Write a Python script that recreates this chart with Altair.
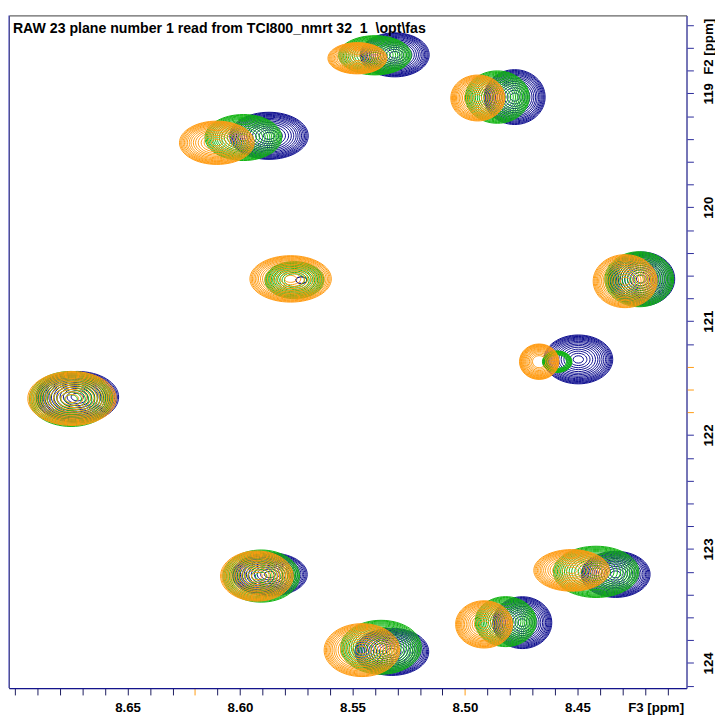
import altair as alt
import pandas as pd

FONT = "Liberation Sans"
TITLE = "RAW 23 plane number 1 read from TCI800_nmrt\u00a032\u00a0\u00a01\u00a0\u00a0\\opt\\fas"

# spectra, in drawing order (bottom -> top)
SPECTRA = ["blue", "green", "orange"]
COLOURS = ["#0c0c8e", "#10b410", "#ff9a10"]

PEAKS = ["A", "B", "C", "D", "E", "F", "G", "H", "I", "J", "K"]

# peak centres along F3 (ppm)
F3_BLUE   = [8.5312, 8.4779, 8.5871, 8.5727, 8.4216, 8.4496, 8.6723, 8.5867, 8.5325, 8.4745, 8.4330]
F3_GREEN  = [8.5400, 8.4856, 8.5985, 8.5758, 8.4225, 8.4590, 8.6751, 8.5906, 8.5373, 8.4819, 8.4417]
F3_ORANGE = [8.5478, 8.4943, 8.6103, 8.5775, 8.4288, 8.4670, 8.6747, 8.5925, 8.5458, 8.4915, 8.4526]
# peak centres along F2 (ppm)
F2_BLUE   = [118.662, 119.033, 119.373, 120.640, 120.630, 121.336, 121.666, 123.224, 123.903, 123.647, 123.223]
F2_GREEN  = [118.666, 119.033, 119.388, 120.640, 120.632, 121.356, 121.683, 123.238, 123.863, 123.638, 123.201]
F2_ORANGE = [118.692, 119.041, 119.434, 120.629, 120.649, 121.356, 121.679, 123.238, 123.888, 123.662, 123.188]
# width of the outermost contour along F3 (ppm)
W_BLUE    = [0.0306, 0.0271, 0.0349, 0.0050, 0.0297, 0.0306, 0.0367, 0.0332, 0.0328, 0.0262, 0.0306]
W_GREEN   = [0.0323, 0.0284, 0.0341, 0.0262, 0.0306, 0.0131, 0.0371, 0.0341, 0.0358, 0.0271, 0.0380]
W_ORANGE  = [0.0262, 0.0240, 0.0332, 0.0362, 0.0284, 0.0175, 0.0393, 0.0323, 0.0336, 0.0253, 0.0336]
# on-screen height / width ratio of the contours
R_BLUE    = [0.64, 0.90, 0.60, 0.60, 0.81, 0.71, 0.62, 0.58, 0.64, 0.88, 0.67]
R_GREEN   = [0.54, 0.82, 0.60, 0.63, 0.80, 0.73, 0.66, 0.68, 0.67, 0.82, 0.60]
R_ORANGE  = [0.53, 0.85, 0.58, 0.57, 0.83, 0.90, 0.61, 0.69, 0.70, 0.83, 0.55]
# number of contour levels drawn
N_BLUE    = [16, 16, 16, 2, 16, 16, 16, 16, 16, 16, 16]
N_GREEN   = [16, 16, 16, 14, 16, 10, 16, 16, 16, 16, 16]
N_ORANGE  = [16, 16, 16, 16, 16, 14, 16, 16, 16, 16, 16]

# relative size of each contour level (outer -> inner)
LEVELS = [1.00, 0.97, 0.94, 0.905, 0.87, 0.83, 0.79, 0.74,
          0.69, 0.63, 0.57, 0.50, 0.42, 0.34, 0.25, 0.15]

X_TICKS = [round(8.41 + 0.01 * i, 2) for i in range(30)]
X_LABELS = [8.65, 8.60, 8.55, 8.50, 8.45]
Y_TICKS = [round(118.4 + 0.2 * i, 1) for i in range(30)]
Y_LABELS = [119, 120, 121, 122, 123, 124]

SERIES = {
    "blue": (F3_BLUE, F2_BLUE, W_BLUE, R_BLUE, N_BLUE),
    "green": (F3_GREEN, F2_GREEN, W_GREEN, R_GREEN, N_GREEN),
    "orange": (F3_ORANGE, F2_ORANGE, W_ORANGE, R_ORANGE, N_ORANGE),
}

rows = []
for spec in SPECTRA:
    f3s, f2s, ws, rs, ns = SERIES[spec]
    for i, pk in enumerate(PEAKS):
        r = rs[i]
        path = f"M-1,0A1,{r},0,1,1,1,0A1,{r},0,1,1,-1,0Z"
        for k, lev in enumerate(LEVELS[: ns[i]]):
            rows.append({"spectrum": spec, "peak": pk, "f3": f3s[i], "f2": f2s[i],
                         "w": ws[i] * lev, "path": path})
df = pd.DataFrame(rows)

W, H = 690, 685

x_label_test = " || ".join(f"abs(datum.value - {v}) < 0.001" for v in X_LABELS)
y_label_test = " || ".join(f"abs(datum.value - {v}) < 0.001" for v in Y_LABELS)

x_axis = alt.Axis(
    values=X_TICKS,
    labelExpr=f"({x_label_test}) ? format(datum.value, '.2f') : ''",
    title="F3 [ppm]", grid=False, tickSize=7, labelPadding=6,
    labelFont=FONT, labelFontSize=13.5, labelFontWeight="bold", labelColor="#000",
    labelOverlap=False, labelFlush=False,
    domainColor="#14148c", domainWidth=1.2,
    tickColor={"condition": {"test": "abs(datum.value - 8.62) < 0.001 || abs(datum.value - 8.5) < 0.001",
                             "value": "#ff9a10"}, "value": "#1a1a5e"},
    titleFont=FONT, titleFontSize=13.5, titleFontWeight="bold", titleColor="#000",
    titleX=687, titleY=13, titleAlign="right", titleBaseline="top",
)

y_axis = alt.Axis(
    orient="right", values=Y_TICKS,
    labelExpr=f"({y_label_test}) ? format(datum.value, 'd') : ''",
    title="F2 [ppm]", grid=False, tickSize=7, labelPadding=8,
    labelAngle=270, labelAlign="center", labelBaseline="top",
    labelFont=FONT, labelFontSize=13.5, labelFontWeight="bold", labelColor="#000",
    labelOverlap=False, labelFlush=False,
    domainColor="#5a5ac8", domainWidth=1.2,
    tickColor={"condition": {"test": "datum.value > 121.3 && datum.value < 121.9",
                             "value": "#ff9a10"}, "value": "#2a2a9a"},
    titleFont=FONT, titleFontSize=13.5, titleFontWeight="bold", titleColor="#000",
    titleAngle=270, titleX=15, titleY=60, titleAlign="left", titleBaseline="top",
)

points = alt.Chart(df).mark_point(filled=False, opacity=1, strokeWidth=1).encode(
    x=alt.X("f3:Q", scale=alt.Scale(domain=[8.4015, 8.7027], reverse=True, nice=False, zero=False), axis=x_axis),
    y=alt.Y("f2:Q", scale=alt.Scale(domain=[118.316, 124.221], reverse=True, nice=False, zero=False), axis=y_axis),
    color=alt.Color("spectrum:N", scale=alt.Scale(domain=SPECTRA, range=COLOURS), legend=None),
    size=alt.Size("w:Q", scale=alt.Scale(type="pow", exponent=2, domain=[0, 0.1], range=[0, 52441]), legend=None),
    shape=alt.Shape("path:N", scale=None),
)

title_text = alt.Chart(alt.Data(values=[{}])).mark_text(
    align="left", baseline="alphabetic", font=FONT, fontSize=14.4, fontWeight="bold", color="#000"
).encode(x=alt.value(4), y=alt.value(18), text=alt.value(TITLE))

left_border = alt.Chart(alt.Data(values=[{}])).mark_rule(color="#5a5ac8", strokeWidth=1.2).encode(
    x=alt.value(0), y=alt.value(0), y2=alt.value(H)
)

chart = alt.layer(points, title_text, left_border).properties(
    width=W, height=H, padding=0
).configure_view(stroke="#3a3a3a", strokeWidth=1)

chart.save("out.html", embed_options={"renderer": "svg", "actions": False})
